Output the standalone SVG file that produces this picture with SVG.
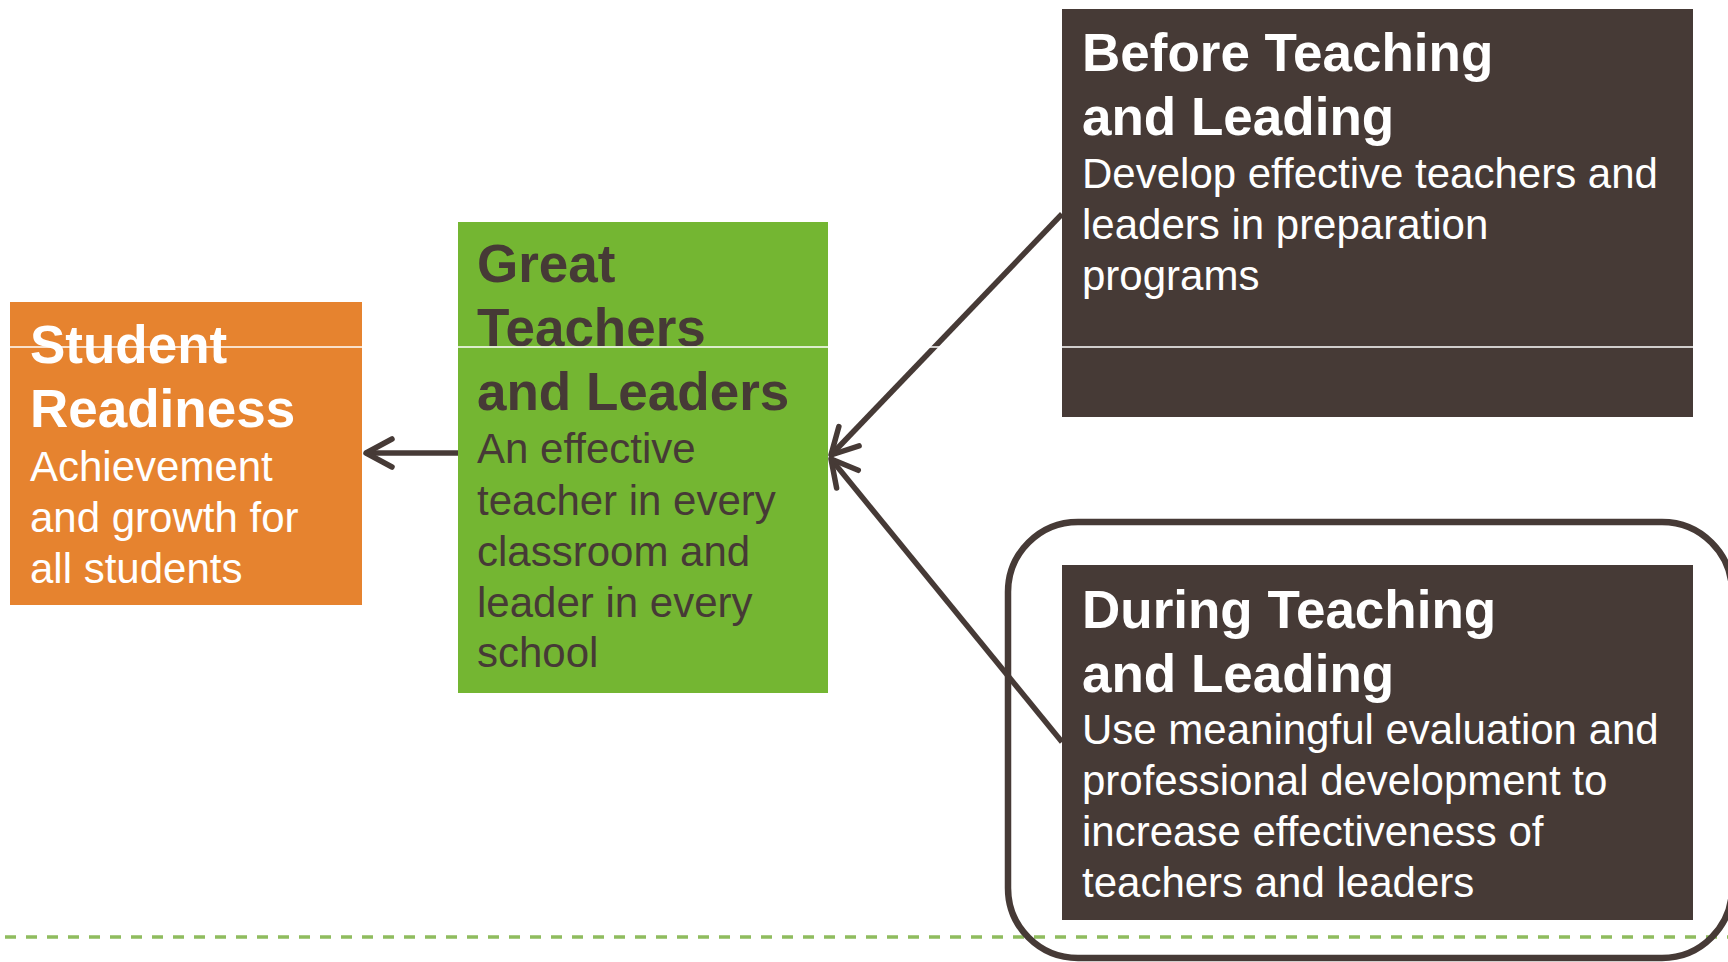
<svg xmlns="http://www.w3.org/2000/svg" width="1728" height="962" viewBox="0 0 1728 962">
  <style>
    .bold { font-family: "Liberation Sans", Arial, sans-serif; font-weight: bold; font-size: 53px; }
    .body { font-family: "Liberation Sans", Arial, sans-serif; font-size: 42px; }
    .light { fill: #ffffff; }
    .dark { fill: #463a36; }
    .conn { fill: none; stroke: #463a36; stroke-width: 5.5; }
  </style>
  <defs>
    <marker id="chevron" markerUnits="userSpaceOnUse" viewBox="-32 -20 36 40" refX="0" refY="0" markerWidth="36" markerHeight="40" orient="auto">
      <path d="M-26,-14 L0,0 L-26,14" fill="none" stroke="#463a36" stroke-width="5.5" stroke-linecap="round" stroke-linejoin="round"/>
    </marker>
  </defs>

  <rect width="1728" height="962" fill="#ffffff"/>

  <!-- bottom dashed rule -->
  <line x1="5" y1="937" x2="1728" y2="937" stroke="#8fbc5e" stroke-width="3.5" stroke-dasharray="11 10"/>

  <!-- rounded frame around the "during" stage -->
  <rect id="during-frame" x="1008" y="522" width="724" height="436" rx="70" ry="70" fill="none" stroke="#463a36" stroke-width="6.5"/>

  <g id="student-readiness">
    <rect x="10" y="302" width="352" height="303" fill="#e6832f"/>
    <text class="bold light" x="30" y="363">Student</text>
    <text class="bold light" x="30" y="427">Readiness</text>
    <text class="body light" x="30" y="481">Achievement</text>
    <text class="body light" x="30" y="532">and growth for</text>
    <text class="body light" x="30" y="583">all students</text>
  </g>

  <g id="great-teachers">
    <rect x="458" y="222" width="370" height="471" fill="#74b632"/>
    <text class="bold dark" x="477" y="282">Great</text>
    <text class="bold dark" x="477" y="346">Teachers</text>
    <text class="bold dark" x="477" y="410">and Leaders</text>
    <text class="body dark" x="477" y="463">An effective</text>
    <text class="body dark" x="477" y="515">teacher in every</text>
    <text class="body dark" x="477" y="566">classroom and</text>
    <text class="body dark" x="477" y="617">leader in every</text>
    <text class="body dark" x="477" y="667">school</text>
  </g>

  <g id="before-teaching">
    <rect x="1062" y="9" width="631" height="408" fill="#463a36"/>
    <text class="bold light" x="1082" y="71">Before Teaching</text>
    <text class="bold light" x="1082" y="135">and Leading</text>
    <text class="body light" x="1082" y="188">Develop effective teachers and</text>
    <text class="body light" x="1082" y="239">leaders in preparation</text>
    <text class="body light" x="1082" y="290">programs</text>
  </g>

  <g id="during-teaching">
    <rect x="1062" y="565" width="631" height="355" fill="#463a36"/>
    <text class="bold light" x="1082" y="628">During Teaching</text>
    <text class="bold light" x="1082" y="692">and Leading</text>
    <text class="body light" x="1082" y="744">Use meaningful evaluation and</text>
    <text class="body light" x="1082" y="795">professional development to</text>
    <text class="body light" x="1082" y="846">increase effectiveness of</text>
    <text class="body light" x="1082" y="897">teachers and leaders</text>
  </g>

  <g id="connectors">
    <line class="conn" x1="458" y1="453" x2="366" y2="453" marker-end="url(#chevron)"/>
    <line class="conn" x1="1062" y1="214" x2="831" y2="455" marker-end="url(#chevron)"/>
    <line class="conn" x1="1062" y1="742" x2="831" y2="459" marker-end="url(#chevron)"/>
  </g>

  <!-- thin white rule across the page -->
  <line x1="0" y1="347" x2="1728" y2="347" stroke="#ffffff" stroke-width="1.5"/>
</svg>
